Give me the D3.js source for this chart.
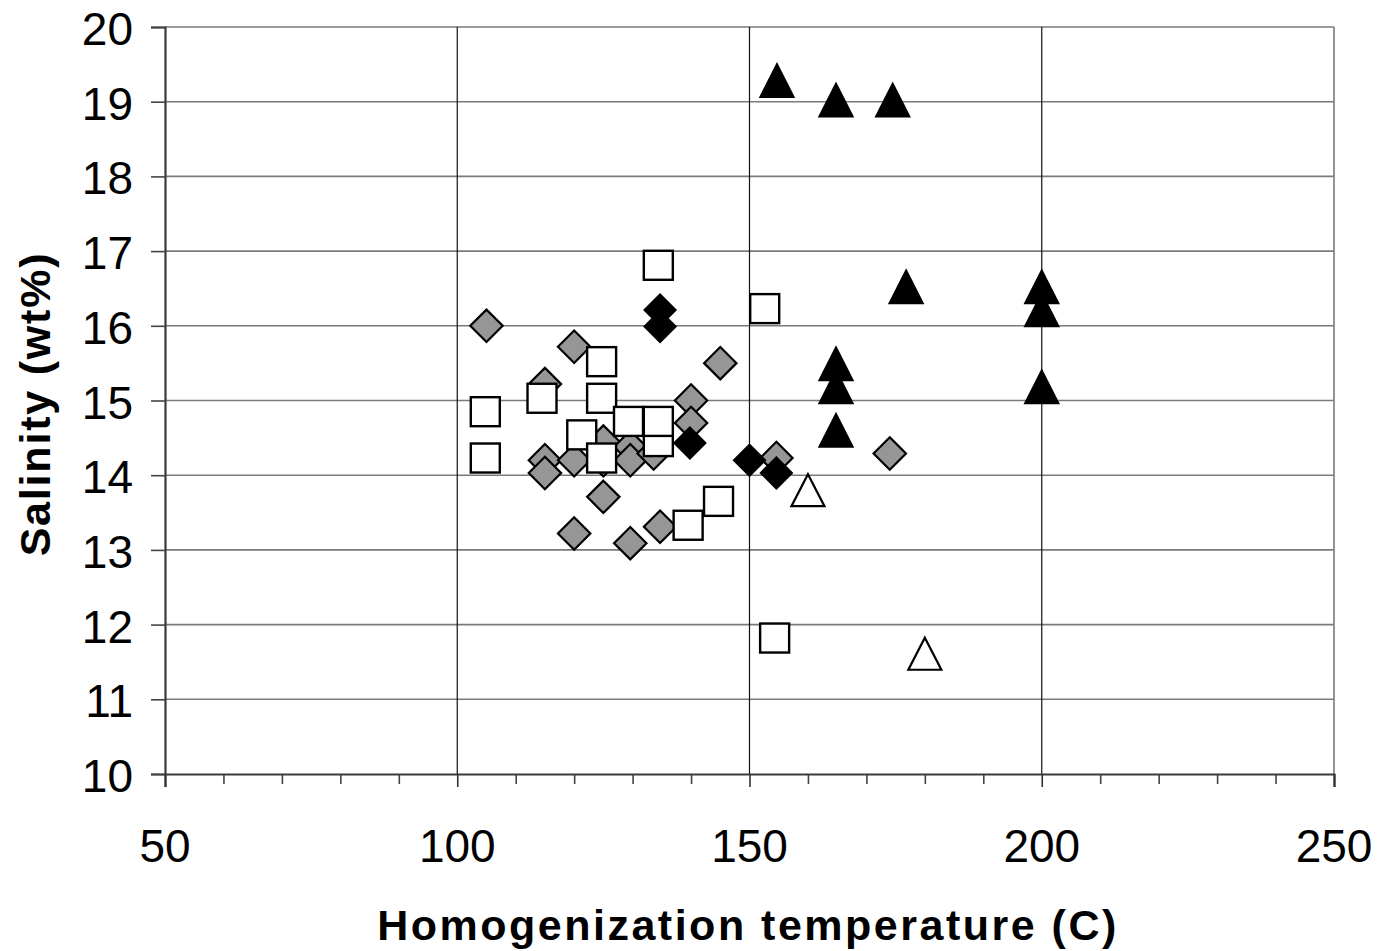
<!DOCTYPE html>
<html>
<head>
<meta charset="utf-8">
<script src="https://cdn.jsdelivr.net/npm/d3@7/dist/d3.min.js"></script>
<style>
  html, body { margin: 0; padding: 0; background: #fff; }
  svg { display: block; }
  text { font-family: "Liberation Sans", Arial, sans-serif; fill: #000; }
</style>
</head>
<body>
<svg id="chart" width="1377" height="951"></svg>
<script>
// Homogenization temperature (C) vs salinity (wt%) of fluid inclusions, five groups

const grayDiamondTemp = [105, 120, 145, 115, 140, 140, 125, 115, 115, 120, 125, 125, 129.6, 129.6, 133.6, 120, 129.6, 134.7, 154.6, 174];
const grayDiamondSal  = [16.0, 15.72, 15.5, 15.22, 15.0, 14.7, 14.45, 14.2, 14.03, 14.2, 14.2, 13.71, 14.38, 14.2, 14.29, 13.22, 13.09, 13.31, 14.23, 14.29];

const openSquareTemp = [134.4, 152.6, 124.7, 114.5, 104.8, 124.7, 129.3, 134.4, 134.4, 121.3, 104.8, 124.7, 144.7, 139.5, 154.3];
const openSquareSal  = [16.81, 16.23, 15.52, 15.03, 14.85, 15.03, 14.72, 14.45, 14.72, 14.54, 14.23, 14.23, 13.65, 13.33, 11.82];

const blackDiamondTemp = [134.7, 134.7, 139.8, 150, 154.6];
const blackDiamondSal  = [16.21, 15.99, 14.43, 14.2, 14.03];

const blackTriangleTemp = [154.7, 164.8, 174.5, 176.8, 200, 200, 200, 164.8, 164.8, 164.8];
const blackTriangleSal  = [19.29, 19.03, 19.03, 16.53, 16.53, 16.22, 15.19, 15.5, 15.19, 14.61];

const openTriangleTemp = [160, 180];
const openTriangleSal  = [13.8, 11.61];

const xTicks = [50, 100, 150, 200, 250];
const yTicks = [10, 11, 12, 13, 14, 15, 16, 17, 18, 19, 20];

const svg = d3.select("#chart");

const x = d3.scaleLinear().domain([50, 250]).range([165, 1334]);
const y = d3.scaleLinear().domain([10, 20]).range([774, 27]);

const pair = (xs, ys) => xs.map((v, i) => ({ t: v, s: ys[i] }));

// horizontal gridlines
svg.append("g").selectAll("line")
  .data(yTicks.filter(d => d > 10))
  .join("line")
  .attr("x1", x(50)).attr("x2", x(250))
  .attr("y1", d => y(d)).attr("y2", d => y(d))
  .attr("stroke", "#7a7a7a").attr("stroke-width", 1.6);

// vertical gridlines
svg.append("g").selectAll("line")
  .data([100, 150, 200])
  .join("line")
  .attr("x1", d => x(d)).attr("x2", d => x(d))
  .attr("y1", y(20)).attr("y2", y(10))
  .attr("stroke", "#111").attr("stroke-width", 1.2);

// right border of plot area
svg.append("line")
  .attr("x1", x(250)).attr("x2", x(250))
  .attr("y1", y(20)).attr("y2", y(10))
  .attr("stroke", "#888").attr("stroke-width", 1.8);

// y axis
const yAxis = d3.axisLeft(y).tickValues(yTicks).tickSize(14).tickFormat("");
const gy = svg.append("g").attr("transform", `translate(${x(50)},0)`).call(yAxis);
gy.select(".domain").attr("stroke", "#3a3a3a").attr("stroke-width", 2.2);
gy.selectAll(".tick line").attr("stroke", "#444").attr("stroke-width", 1.6);

svg.append("g").selectAll("text")
  .data(yTicks)
  .join("text")
  .attr("x", 133)
  .attr("y", d => y(d) + 18)
  .attr("text-anchor", "end")
  .attr("font-size", 46)
  .text(d => d);

// x axis: minor ticks every 10, longer ticks at labelled values
const gxMinor = svg.append("g").attr("transform", `translate(0,${y(10)})`)
  .call(d3.axisBottom(x).tickValues(d3.range(60, 250, 10).filter(v => v % 50 !== 0)).tickSize(10).tickFormat(""));
gxMinor.select(".domain").remove();
gxMinor.selectAll(".tick line").attr("stroke", "#444").attr("stroke-width", 1.6);

const gx = svg.append("g").attr("transform", `translate(0,${y(10)})`)
  .call(d3.axisBottom(x).tickValues(xTicks).tickSize(13).tickFormat(""));
gx.select(".domain").attr("stroke", "#3a3a3a").attr("stroke-width", 2.2);
gx.selectAll(".tick line").attr("stroke", "#333").attr("stroke-width", 1.6);

svg.append("g").selectAll("text")
  .data(xTicks)
  .join("text")
  .attr("x", d => x(d))
  .attr("y", 862)
  .attr("text-anchor", "middle")
  .attr("font-size", 46)
  .text(d => d);

// axis titles
svg.append("text")
  .attr("x", 748).attr("y", 940)
  .attr("text-anchor", "middle")
  .attr("font-size", 43)
  .attr("font-weight", "bold")
  .attr("letter-spacing", 2.5)
  .text("Homogenization temperature (C)");

svg.append("text")
  .attr("transform", "translate(50,404) rotate(-90)")
  .attr("text-anchor", "middle")
  .attr("font-size", 43)
  .attr("font-weight", "bold")
  .attr("letter-spacing", 1.8)
  .text("Salinity (wt%)");

// marker shapes
const diamondPath = r => `M0,${-r}L${r},0L0,${r}L${-r},0Z`;
const trianglePath = (w, h) => `M0,${-h / 2}L${w / 2},${h / 2}L${-w / 2},${h / 2}Z`;

const plot = svg.append("g");

plot.append("g").selectAll("path")
  .data(pair(grayDiamondTemp, grayDiamondSal))
  .join("path")
  .attr("transform", d => `translate(${x(d.t)},${y(d.s)})`)
  .attr("d", diamondPath(16.2))
  .attr("fill", "#969696").attr("stroke", "#000").attr("stroke-width", 2.2);

plot.append("g").selectAll("rect")
  .data(pair(openSquareTemp, openSquareSal))
  .join("rect")
  .attr("x", d => x(d.t) - 14.5).attr("y", d => y(d.s) - 14.5)
  .attr("width", 29).attr("height", 29)
  .attr("fill", "#fff").attr("stroke", "#000").attr("stroke-width", 2.4);

plot.append("g").selectAll("path")
  .data(pair(blackDiamondTemp, blackDiamondSal))
  .join("path")
  .attr("transform", d => `translate(${x(d.t)},${y(d.s)})`)
  .attr("d", diamondPath(17))
  .attr("fill", "#000");

plot.append("g").selectAll("path")
  .data(pair(blackTriangleTemp, blackTriangleSal))
  .join("path")
  .attr("transform", d => `translate(${x(d.t)},${y(d.s)})`)
  .attr("d", trianglePath(36.5, 36))
  .attr("fill", "#000");

plot.append("g").selectAll("path")
  .data(pair(openTriangleTemp, openTriangleSal))
  .join("path")
  .attr("transform", d => `translate(${x(d.t)},${y(d.s)})`)
  .attr("d", trianglePath(33, 32))
  .attr("fill", "#fff").attr("stroke", "#000").attr("stroke-width", 2.2);
</script>
</body>
</html>
